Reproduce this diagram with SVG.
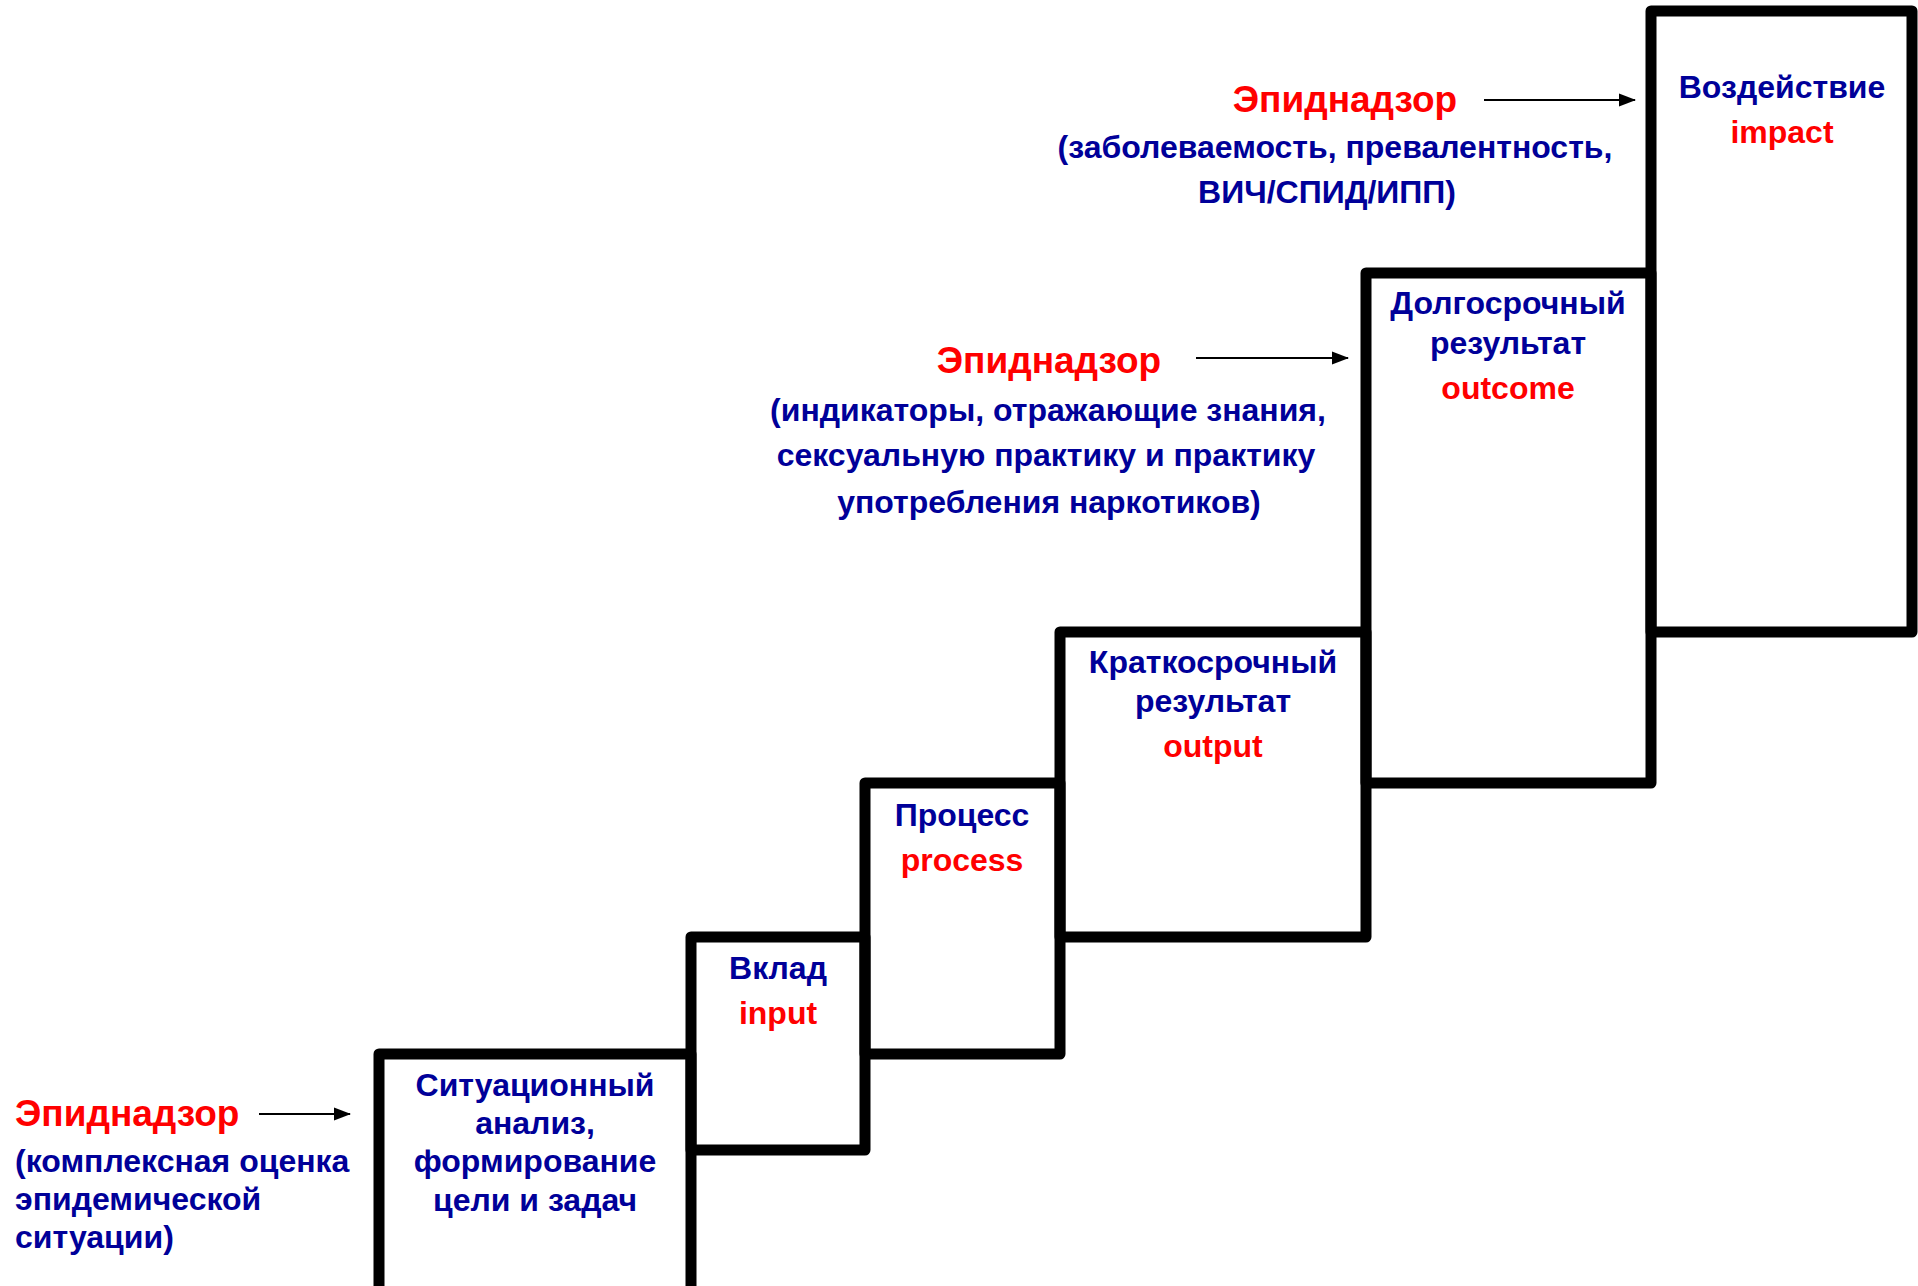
<svg xmlns="http://www.w3.org/2000/svg" width="1918" height="1286" viewBox="0 0 1918 1286">
<style>
.box{fill:none;stroke:#000;stroke-width:11;stroke-linejoin:round}
.t{font-family:"Liberation Sans",Arial,sans-serif;font-weight:bold;font-size:32px}
.b{fill:#000099}
.r{fill:#ff0000}
.big{font-size:37px}
.c{text-anchor:middle}
.arr{stroke:#000;stroke-width:2.2;fill:none}
</style>
<defs>
<marker id="ah" markerWidth="8" markerHeight="6" refX="7.5" refY="3" orient="auto" markerUnits="strokeWidth">
<path d="M0,0 L8,3 L0,6 Z" fill="#000"/>
</marker>
</defs>
<rect width="1918" height="1286" fill="#fff"/>
<g id="box1">
<rect class="box" x="379" y="1054" width="312" height="300"/>
<text class="t b c" x="535" y="1096">Ситуационный</text>
<text class="t b c" x="535" y="1134">анализ,</text>
<text class="t b c" x="535" y="1172">формирование</text>
<text class="t b c" x="535" y="1211">цели и задач</text>
</g>
<g id="box2">
<rect class="box" x="691" y="937" width="174" height="213"/>
<text class="t b c" x="778" y="979">Вклад</text>
<text class="t r c" x="778" y="1024">input</text>
</g>
<g id="box3">
<rect class="box" x="865" y="783" width="195" height="271"/>
<text class="t b c" x="962" y="826">Процесс</text>
<text class="t r c" x="962" y="871">process</text>
</g>
<g id="box4">
<rect class="box" x="1060" y="632" width="306" height="305"/>
<text class="t b c" x="1213" y="673">Краткосрочный</text>
<text class="t b c" x="1213" y="712">результат</text>
<text class="t r c" x="1213" y="757">output</text>
</g>
<g id="box5">
<rect class="box" x="1366" y="273" width="285" height="510"/>
<text class="t b c" x="1508" y="314">Долгосрочный</text>
<text class="t b c" x="1508" y="354">результат</text>
<text class="t r c" x="1508" y="399">outcome</text>
</g>
<g id="box6">
<rect class="box" x="1651" y="11" width="261" height="621"/>
<text class="t b c" x="1782" y="98">Воздействие</text>
<text class="t r c" x="1782" y="143">impact</text>
</g>
<g id="label-bottom">
<text class="t r big" x="15" y="1126">Эпиднадзор</text>
<text class="t b" x="15" y="1172">(комплексная оценка</text>
<text class="t b" x="15" y="1210">эпидемической</text>
<text class="t b" x="15" y="1248">ситуации)</text>
</g>
<g id="label-middle">
<text class="t r big c" x="1049" y="373">Эпиднадзор</text>
<text class="t b c" x="1048" y="421">(индикаторы, отражающие знания,</text>
<text class="t b c" x="1046" y="466">сексуальную практику и практику</text>
<text class="t b c" x="1049" y="513">употребления наркотиков)</text>
</g>
<g id="label-top">
<text class="t r big c" x="1345" y="112">Эпиднадзор</text>
<text class="t b c" x="1335" y="158">(заболеваемость, превалентность,</text>
<text class="t b c" x="1327" y="203">ВИЧ/СПИД/ИПП)</text>
</g>
<g id="connectors">
<line class="arr" x1="259" y1="1114" x2="350" y2="1114" marker-end="url(#ah)"/>
<line class="arr" x1="1196" y1="358" x2="1348" y2="358" marker-end="url(#ah)"/>
<line class="arr" x1="1484" y1="100" x2="1635" y2="100" marker-end="url(#ah)"/>
</g>
</svg>
